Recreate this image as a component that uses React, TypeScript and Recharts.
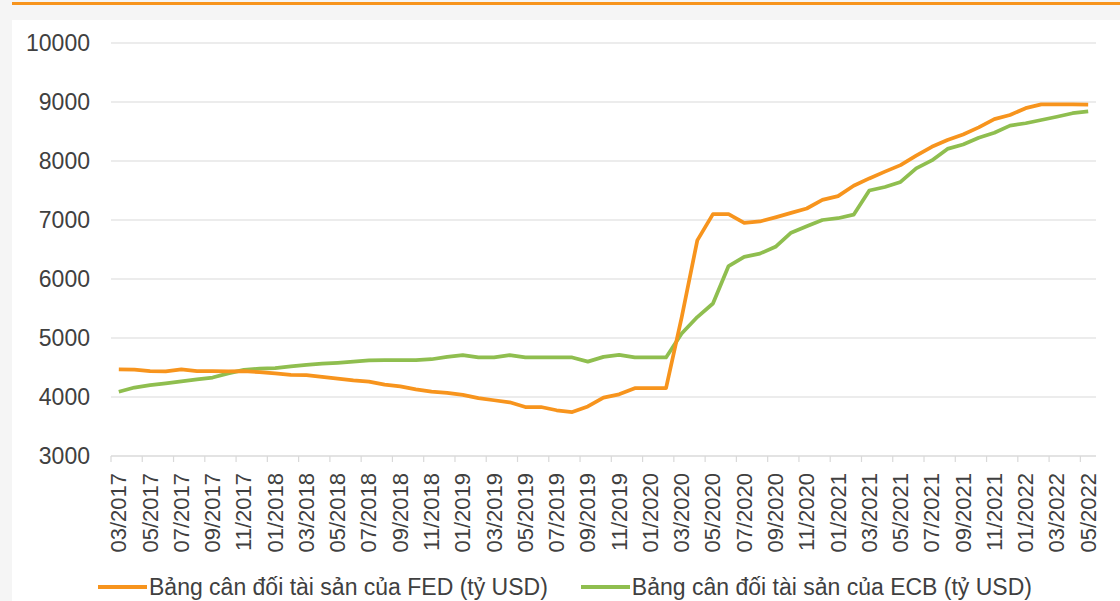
import React from 'react';
import { LineChart, Line, XAxis, YAxis, CartesianGrid, Legend } from 'recharts';

const months = [
  '03/2017', '04/2017', '05/2017', '06/2017', '07/2017', '08/2017', '09/2017', '10/2017', '11/2017', '12/2017',
  '01/2018', '02/2018', '03/2018', '04/2018', '05/2018', '06/2018', '07/2018', '08/2018', '09/2018', '10/2018', '11/2018', '12/2018',
  '01/2019', '02/2019', '03/2019', '04/2019', '05/2019', '06/2019', '07/2019', '08/2019', '09/2019', '10/2019', '11/2019', '12/2019',
  '01/2020', '02/2020', '03/2020', '04/2020', '05/2020', '06/2020', '07/2020', '08/2020', '09/2020', '10/2020', '11/2020', '12/2020',
  '01/2021', '02/2021', '03/2021', '04/2021', '05/2021', '06/2021', '07/2021', '08/2021', '09/2021', '10/2021', '11/2021', '12/2021',
  '01/2022', '02/2022', '03/2022', '04/2022', '05/2022',
];

const fedValues = [
  4470, 4465, 4440, 4435, 4470, 4440, 4440, 4435, 4440, 4420,
  4400, 4375, 4370, 4340, 4310, 4280, 4260, 4210, 4180, 4130, 4090, 4070,
  4035, 3980, 3945, 3910, 3830, 3830, 3775, 3745, 3840, 3990, 4045, 4150,
  4150, 4150, 5350, 6655, 7100, 7100, 6950, 6975, 7045, 7120, 7195, 7340,
  7405, 7580, 7705, 7820, 7930, 8090, 8240, 8355, 8450, 8570, 8710, 8780,
  8895, 8960, 8960, 8960, 8955,
];

const ecbValues = [
  4090, 4160, 4200, 4230, 4265, 4300, 4330, 4400, 4460, 4480,
  4490, 4520, 4545, 4565, 4580, 4600, 4620, 4625, 4625, 4625, 4640, 4680,
  4710, 4670, 4670, 4710, 4670, 4670, 4670, 4670, 4600, 4680, 4715, 4670,
  4670, 4670, 5075, 5355, 5585, 6220, 6375, 6430, 6545, 6785, 6895, 7000,
  7030, 7090, 7500, 7560, 7645, 7875, 8010, 8205, 8280, 8395, 8480, 8600,
  8640, 8695, 8750, 8810, 8840,
];

const yTicks = [3000, 4000, 5000, 6000, 7000, 8000, 9000, 10000];

const fedName = 'Bảng cân đối tài sản của FED (tỷ USD)';
const ecbName = 'Bảng cân đối tài sản của ECB (tỷ USD)';
const legendOrder = [fedName, ecbName];

const data = months.map((m, i) => ({ idx: i, month: m, fed: fedValues[i], ecb: ecbValues[i] }));

const labelTicks = months.map((_, i) => i).filter((i) => i % 2 === 0);
const markTicks = labelTicks.map((i) => i - 0.5);

const FONT = '"Liberation Sans", Arial, sans-serif';
const TEXT = '#404040';
const ORANGE = '#F7941D';
const GREEN = '#8FBE4F';
const GRID = '#D9D9D9';

const MonthTick = (props: any) => {
  const { x, y, payload } = props;
  return (
    <text
      x={x}
      y={y}
      transform={`rotate(-90 ${x} ${y})`}
      textAnchor="end"
      dominantBaseline="central"
      fontSize={22}
      fontFamily={FONT}
      fill={TEXT}
    >
      {months[payload.value]}
    </text>
  );
};

const renderLegend = (props: any) => {
  const items = [...(props.payload || [])].sort(
    (a: any, b: any) => legendOrder.indexOf(a.value) - legendOrder.indexOf(b.value)
  );
  return (
    <div
      style={{
        display: 'flex',
        alignItems: 'center',
        height: 30,
        paddingLeft: 98,
        fontFamily: FONT,
        fontSize: 23,
        color: TEXT,
        whiteSpace: 'nowrap',
      }}
    >
      {items.map((entry: any, k: number) => (
        <div key={k} style={{ display: 'flex', alignItems: 'center', marginRight: 33 }}>
          <svg width={49} height={10} style={{ display: 'block' }}>
            <line x1={0} y1={5} x2={49} y2={5} stroke={entry.color} strokeWidth={4} />
          </svg>
          <span style={{ marginLeft: 2 }}>{entry.value}</span>
        </div>
      ))}
    </div>
  );
};

export default function App() {
  return (
    <div style={{ position: 'absolute', left: 0, top: 0, width: 1120, height: 601, background: '#F5F5F5', overflow: 'hidden' }}>
      <div style={{ position: 'absolute', left: 12, top: 20, width: 1108, height: 581, background: '#FFFFFF' }} />
      <div style={{ position: 'absolute', left: 12, top: 2, width: 1108, height: 3, background: ORANGE }} />
      <div style={{ position: 'absolute', left: 0, top: 0 }}>
        <LineChart width={1120} height={601} data={data} margin={{ top: 43, right: 24, bottom: 143, left: 0 }}>
          <CartesianGrid xAxisId="a_marks" yAxisId="y" vertical={false} stroke={GRID} strokeWidth={1.2} />
          <XAxis
            xAxisId="a_marks"
            dataKey="idx"
            type="number"
            domain={[-0.5, 62.5]}
            ticks={markTicks}
            height={1}
            tickFormatter={() => ''}
            tickSize={6}
            axisLine={{ stroke: GRID, strokeWidth: 1.2 }}
            tickLine={{ stroke: GRID, strokeWidth: 1.2 }}
            interval={0}
            allowDataOverflow
          />
          <XAxis
            xAxisId="b_labels"
            dataKey="idx"
            type="number"
            domain={[-0.5, 62.5]}
            ticks={labelTicks}
            height={1}
            axisLine={false}
            tickLine={false}
            tickSize={0}
            tickMargin={16}
            tick={<MonthTick />}
            interval={0}
            allowDataOverflow
          />
          <YAxis
            yAxisId="y"
            type="number"
            domain={[3000, 10000]}
            ticks={yTicks}
            width={111}
            axisLine={false}
            tickLine={false}
            tickSize={0}
            tickMargin={21}
            interval={0}
            tick={{ fontSize: 23, fontFamily: FONT, fill: TEXT }}
          />
          <Legend
            layout="horizontal"
            verticalAlign="middle"
            align="center"
            content={renderLegend}
            wrapperStyle={{ top: 572, left: 0, width: 1120 }}
          />
          <Line
            xAxisId="b_labels"
            yAxisId="y"
            type="linear"
            dataKey="ecb"
            name={ecbName}
            stroke={GREEN}
            strokeWidth={3.75}
            strokeLinejoin="round"
            dot={false}
            activeDot={false}
            isAnimationActive={false}
          />
          <Line
            xAxisId="b_labels"
            yAxisId="y"
            type="linear"
            dataKey="fed"
            name={fedName}
            stroke={ORANGE}
            strokeWidth={3.75}
            strokeLinejoin="round"
            dot={false}
            activeDot={false}
            isAnimationActive={false}
          />
        </LineChart>
      </div>
    </div>
  );
}
